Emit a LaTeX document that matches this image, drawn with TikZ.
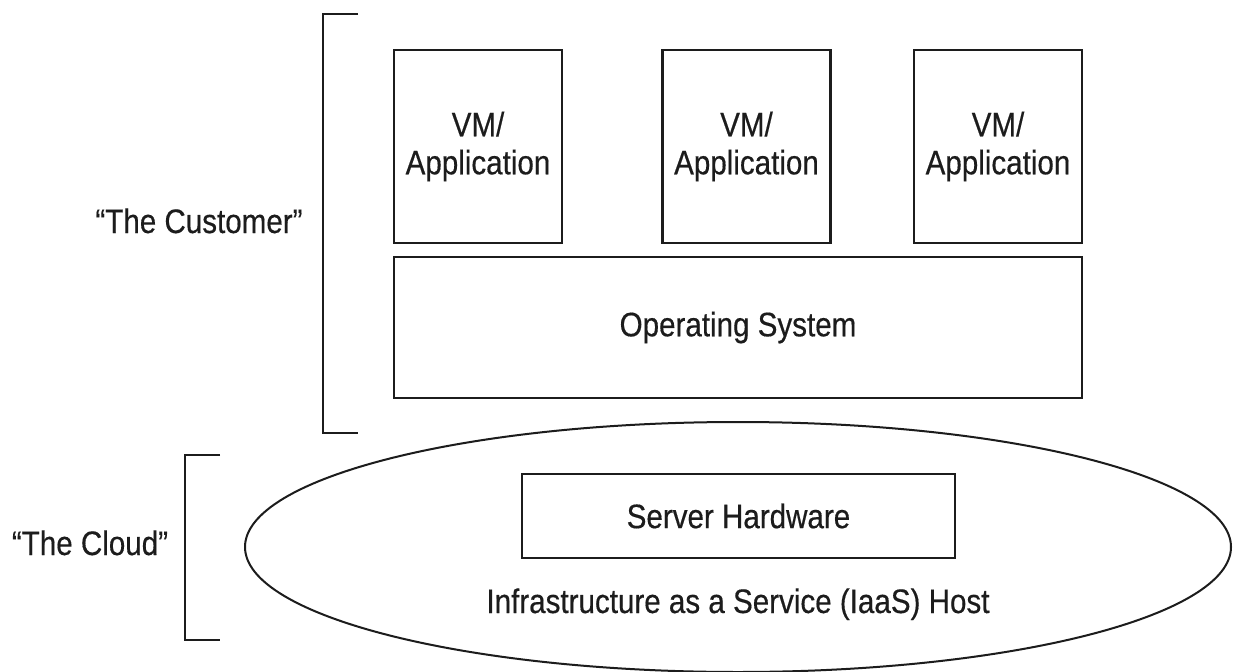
\documentclass[tikz,border=0pt]{standalone}
\usepackage{fontspec}
\setmainfont{Liberation Sans}[FakeStretch=0.87,FakeBold=0.4]
\usetikzlibrary{shapes.geometric}
\definecolor{ink}{HTML}{1C1C1C}
\begin{document}
\begin{tikzpicture}[x=1pt,y=-1pt,
  every node/.style={text=ink, font=\fontsize{34}{38}\selectfont},
  layerbox/.style={draw=ink, line width=2.3pt, inner sep=0pt, align=center},
  vmbox/.style={layerbox, minimum width=168pt, minimum height=193pt},
  hostshape/.style={draw=ink, line width=2pt, ellipse, inner sep=0pt, minimum width=986pt, minimum height=250pt},
  bracketline/.style={draw=ink, line width=2.5pt},
  label/.style={anchor=base, inner sep=0pt}
]
\useasboundingbox (0,0) rectangle (1235,672);
\fill[white] (0,0) rectangle (1235,672);

% host ellipse
\node[hostshape] (host) at (738,547) {};

% VM boxes
\node[vmbox] (vm1) at (478,146.5) {VM/\\Application};
\node[vmbox] (vm2) at (746.5,146.5) {VM/\\Application};
\node[vmbox] (vm3) at (998,146.5) {VM/\\Application};

% operating system
\node[layerbox, minimum width=688pt, minimum height=141pt] (os) at (738,327.5) {Operating System};

% server hardware
\node[layerbox, minimum width=433pt, minimum height=84pt] (hw) at (738.5,516) {Server Hardware};

% host caption
\node[label] (iaas) at (738,613) {Infrastructure as a Service (IaaS) Host};

% brackets
\coordinate (c1a) at (358,14);
\coordinate (c1b) at (323,14);
\coordinate (c1c) at (323,433);
\coordinate (c1d) at (358,433);
\draw[bracketline] (c1a) -- (c1b) -- (c1c) -- (c1d);

\coordinate (c2a) at (220,455);
\coordinate (c2b) at (185,455);
\coordinate (c2c) at (185,640);
\coordinate (c2d) at (220,640);
\draw[bracketline] (c2a) -- (c2b) -- (c2c) -- (c2d);

% labels
\node[label] (customer) at (199,233) {“The Customer”};
\node[label] (cloud) at (90,555) {“The Cloud”};
\end{tikzpicture}
\end{document}
